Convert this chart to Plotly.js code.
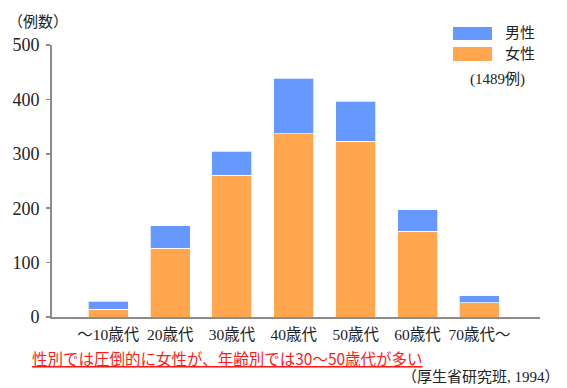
<!DOCTYPE html>
<html>
<head>
<meta charset="utf-8">
<script src="https://cdn.plot.ly/plotly-3.0.1.min.js"></script>
<style>html,body{margin:0;padding:0;background:#fff;}#chart{width:567px;height:388px;}</style>
</head>
<body>
<div id="chart"></div>
<script>
var categories = ["〜10歳代", "20歳代", "30歳代", "40歳代", "50歳代", "60歳代", "70歳代〜"];
var female = [14, 126, 261, 337, 323, 158, 26];
var male = [15, 42, 44, 102, 74, 39, 13];
var yTicks = [0, 100, 200, 300, 400, 500];

var W = 567, H = 388;
var L = 52, R = 27, T = 45, B = 71;
var PW = W - L - R, PH = H - T - B;
function px(x) { return (x - L) / PW; }
function py(y) { return (H - B - y) / PH; }

var serif = "Liberation Serif, DejaVu Serif, Noto Sans CJK JP, serif";
var sans = "Noto Sans CJK JP, sans-serif";
var blue = "#6699ff", orange = "#ffa64f";

var traces = [
  {type: "bar", name: "女性", x: categories, y: female, marker: {color: orange, line: {color: "rgba(255,255,255,0.7)", width: 1}}, showlegend: false, hoverinfo: "none"},
  {type: "bar", name: "男性", x: categories, y: male, marker: {color: blue, line: {color: "rgba(255,255,255,0.7)", width: 1}}, showlegend: false, hoverinfo: "none"}
];

var layout = {
  width: W, height: H,
  font: {family: serif},
  margin: {l: L, r: R, t: T, b: B, pad: 0},
  paper_bgcolor: "#fff", plot_bgcolor: "#fff",
  barmode: "stack", bargap: 0.353,
  xaxis: {
    type: "category", range: [-0.91, 6.98], showgrid: false, zeroline: false,
    showline: true, linecolor: "#8c8c8c", linewidth: 2, ticks: "",
    tickfont: {family: serif, size: 15.5, color: "#222"}, ticklabelstandoff: 2
  },
  yaxis: {
    range: [0, 500], tickvals: yTicks, ticktext: yTicks.map(String),
    showgrid: false, zeroline: false, showline: true, linecolor: "#8c8c8c", linewidth: 2,
    ticks: "outside", ticklen: 4, tickwidth: 1.5, tickcolor: "#8c8c8c",
    tickfont: {family: serif, size: 18, color: "#222"}, ticklabelstandoff: 3
  },
  shapes: [
    {type: "rect", xref: "paper", yref: "paper", x0: px(453), x1: px(492), y0: py(40), y1: py(27), fillcolor: blue, line: {width: 0}},
    {type: "rect", xref: "paper", yref: "paper", x0: px(453), x1: px(492), y0: py(61), y1: py(47), fillcolor: orange, line: {width: 0}}
  ],
  annotations: [
    {xref: "paper", yref: "paper", x: px(6), y: py(22), xanchor: "left", yanchor: "middle", showarrow: false, text: "（例数）", font: {family: serif, size: 15, color: "#222"}},
    {xref: "paper", yref: "paper", x: px(503), y: py(33), xanchor: "left", yanchor: "middle", showarrow: false, text: "男性", font: {family: serif, size: 15, color: "#222"}},
    {xref: "paper", yref: "paper", x: px(503), y: py(54), xanchor: "left", yanchor: "middle", showarrow: false, text: "女性", font: {family: serif, size: 15, color: "#222"}},
    {xref: "paper", yref: "paper", x: px(497), y: py(79), xanchor: "center", yanchor: "middle", showarrow: false, text: "(1489例)", font: {family: serif, size: 15, color: "#222"}},
    {xref: "paper", yref: "paper", x: px(30), y: py(358), xanchor: "left", yanchor: "middle", showarrow: false, text: "<u>性別では圧倒的に女性が、年齢別では30〜50歳代が多い</u>", font: {family: sans, size: 15.5, color: "#ff1a1a"}},
    {xref: "paper", yref: "paper", x: px(562), y: py(377), xanchor: "right", yanchor: "middle", showarrow: false, text: "（厚生省研究班, 1994）", font: {family: serif, size: 15, color: "#222"}}
  ]
};

Plotly.newPlot("chart", traces, layout, {staticPlot: true, displayModeBar: false});
</script>
</body>
</html>
